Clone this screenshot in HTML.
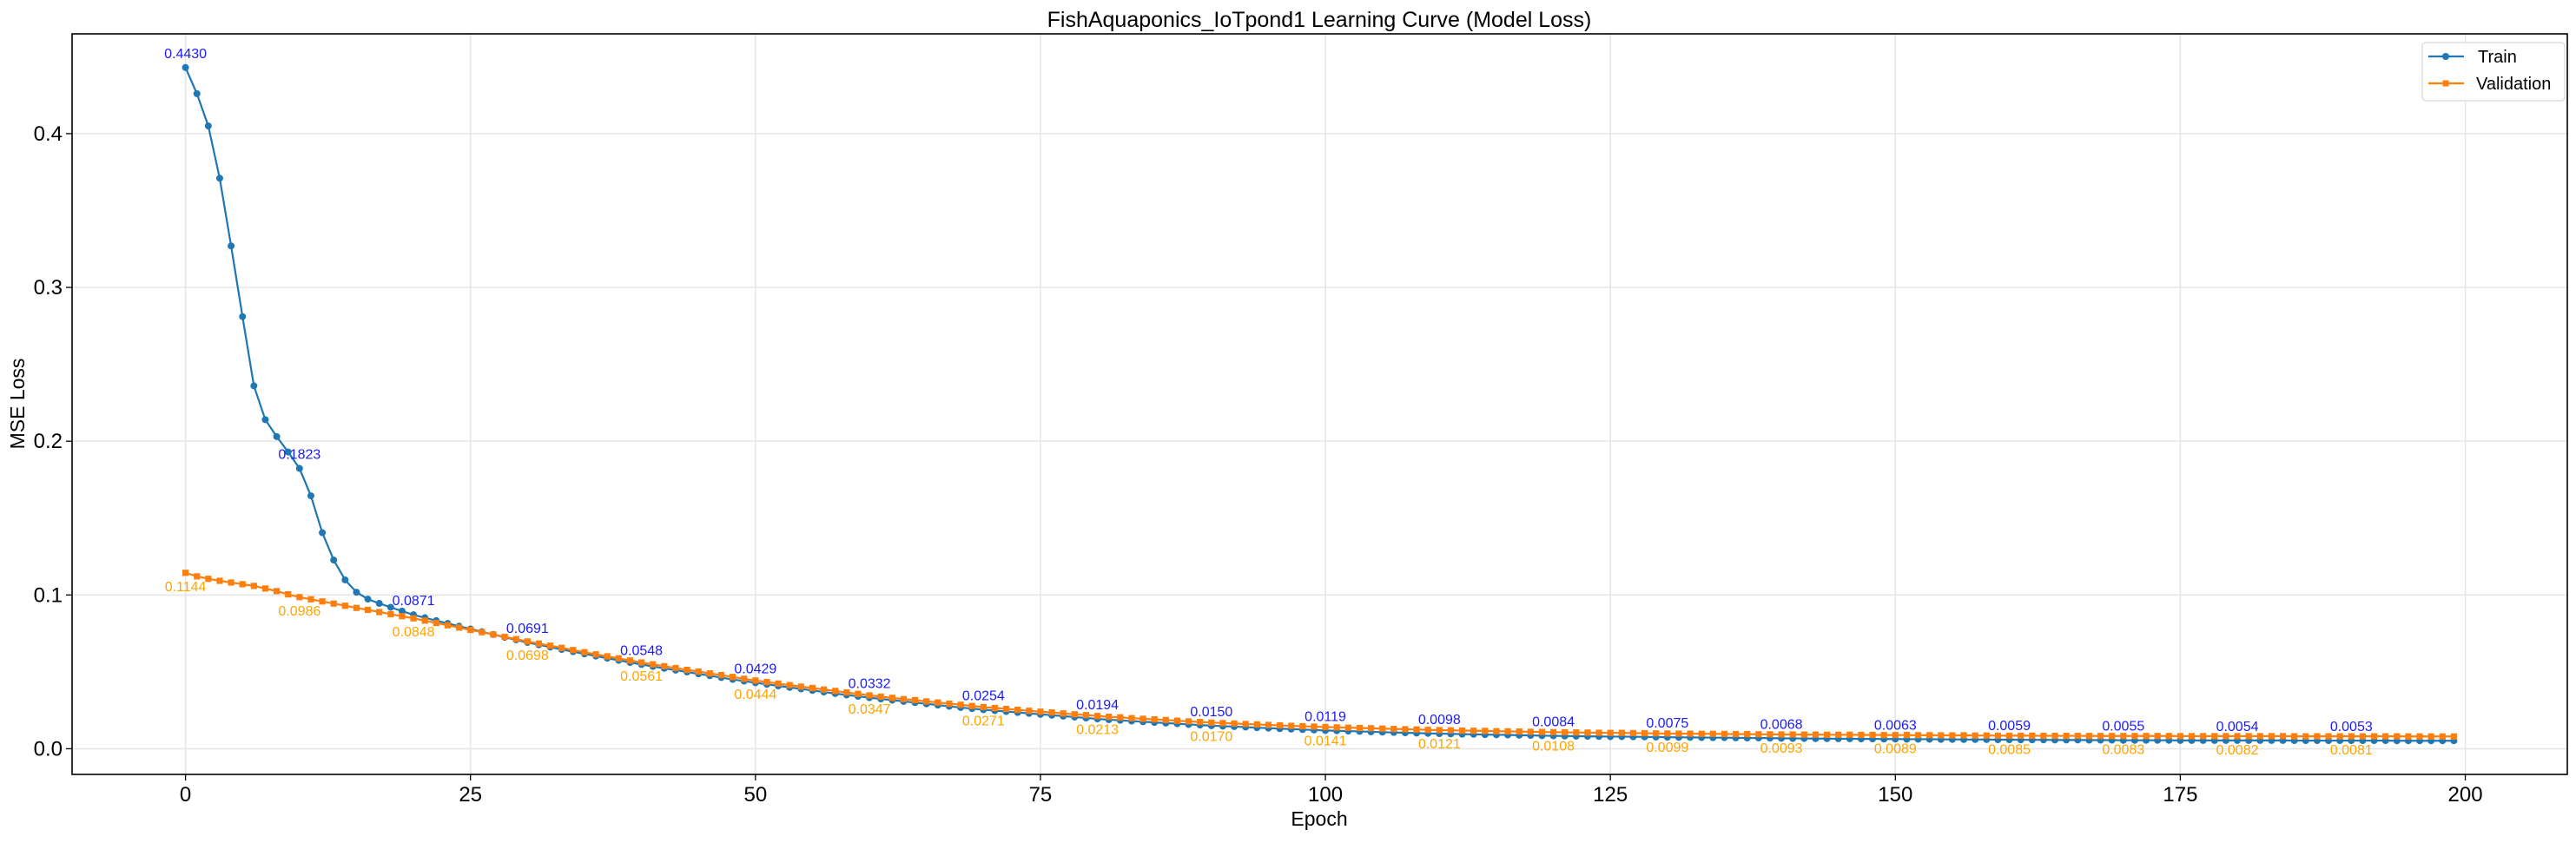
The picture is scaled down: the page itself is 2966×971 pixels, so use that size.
<!DOCTYPE html>
<html><head><meta charset="utf-8"><style>
body{margin:0;background:#fff}
svg text{font-family:"Liberation Sans",sans-serif}
</style></head><body>
<svg id="chart" width="2966" height="966" xmlns="http://www.w3.org/2000/svg">
<rect width="2966" height="966" fill="#fff"/>
<g id="grid"></g>
<g id="series"></g>
<g id="labels"></g>
<rect x="83" y="39" width="2873" height="853" fill="none" stroke="#000" stroke-width="1.6"/>
<g id="ticks"></g>
<text x="1519" y="31" font-size="25" text-anchor="middle">FishAquaponics_IoTpond1 Learning Curve (Model Loss)</text>
<text x="1519" y="951" font-size="23" text-anchor="middle">Epoch</text>
<text x="0" y="0" font-size="23" text-anchor="middle" transform="translate(28,465) rotate(-90)">MSE Loss</text>
<g>
<rect x="2789" y="49" width="164" height="67" rx="4" fill="#fff" fill-opacity="0.85" stroke="#d8d8d8" stroke-width="1.3"/>
<g>
<line x1="2796" y1="65" x2="2837" y2="65" stroke="#1f77b4" stroke-width="2.2"/><circle cx="2816" cy="65" r="4" fill="#1f77b4"/>
<text x="2853" y="72" font-size="20">Train</text></g>
<g>
<line x1="2796" y1="96" x2="2837" y2="96" stroke="#ff7f0e" stroke-width="2.2"/><rect x="2812.5" y="92.5" width="7" height="7" fill="#ff7f0e"/>
<text x="2851" y="103" font-size="20">Validation</text></g>
</g>
</svg>
<script>
const trainLoss=[
0.4430,0.4260,0.4050,0.3710,0.3270,0.2810,0.2360,0.2140,0.2030,0.1930,
0.1823,0.1645,0.1405,0.1227,0.1098,0.1018,0.0973,0.0945,0.0920,0.0895,
0.0871,0.0852,0.0833,0.0815,0.0797,0.0779,0.0761,0.0743,0.0725,0.0708,
0.0691,0.0676,0.0661,0.0646,0.0631,0.0617,0.0603,0.0589,0.0575,0.0561,
0.0548,0.0535,0.0523,0.0511,0.0499,0.0487,0.0475,0.0463,0.0451,0.0440,
0.0429,0.0419,0.0409,0.0399,0.0389,0.0379,0.0369,0.0359,0.0350,0.0341,
0.0332,0.0324,0.0316,0.0308,0.0300,0.0292,0.0284,0.0276,0.0268,0.0261,
0.0254,0.0248,0.0242,0.0236,0.0230,0.0224,0.0218,0.0212,0.0206,0.0200,
0.0194,0.0189,0.0185,0.0180,0.0176,0.0171,0.0167,0.0163,0.0158,0.0154,
0.0150,0.0147,0.0144,0.0141,0.0137,0.0134,0.0131,0.0128,0.0125,0.0122,
0.0119,0.0117,0.0115,0.0113,0.0110,0.0108,0.0106,0.0104,0.0102,0.0100,
0.0098,0.0097,0.0095,0.0094,0.0092,0.0091,0.0090,0.0088,0.0087,0.0085,
0.0084,0.0083,0.0082,0.0081,0.0080,0.0079,0.0079,0.0078,0.0077,0.0076,
0.0075,0.0074,0.0074,0.0073,0.0072,0.0072,0.0071,0.0070,0.0070,0.0069,
0.0068,0.0067,0.0067,0.0066,0.0066,0.0065,0.0065,0.0064,0.0064,0.0063,
0.0063,0.0062,0.0062,0.0062,0.0061,0.0061,0.0060,0.0060,0.0060,0.0059,
0.0059,0.0058,0.0058,0.0058,0.0057,0.0057,0.0057,0.0056,0.0056,0.0056,
0.0055,0.0055,0.0055,0.0055,0.0055,0.0054,0.0054,0.0054,0.0054,0.0054,
0.0054,0.0054,0.0054,0.0054,0.0054,0.0053,0.0053,0.0053,0.0053,0.0053,
0.0053,0.0053,0.0053,0.0053,0.0052,0.0052,0.0052,0.0052,0.0052,0.0052];
const valLoss=[
0.1144,0.1121,0.1105,0.1092,0.1081,0.1070,0.1059,0.1042,0.1025,0.1004,
0.0986,0.0972,0.0958,0.0944,0.0930,0.0916,0.0903,0.0889,0.0875,0.0862,
0.0848,0.0833,0.0818,0.0803,0.0788,0.0773,0.0758,0.0743,0.0728,0.0713,
0.0698,0.0684,0.0670,0.0656,0.0642,0.0628,0.0614,0.0601,0.0588,0.0574,
0.0561,0.0549,0.0537,0.0525,0.0513,0.0502,0.0490,0.0479,0.0467,0.0455,
0.0444,0.0434,0.0424,0.0414,0.0404,0.0395,0.0385,0.0376,0.0366,0.0357,
0.0347,0.0339,0.0331,0.0323,0.0316,0.0308,0.0301,0.0293,0.0286,0.0278,
0.0271,0.0265,0.0259,0.0253,0.0247,0.0241,0.0236,0.0230,0.0224,0.0219,
0.0213,0.0208,0.0204,0.0199,0.0195,0.0191,0.0187,0.0182,0.0178,0.0174,
0.0170,0.0167,0.0164,0.0161,0.0158,0.0155,0.0152,0.0149,0.0146,0.0144,
0.0141,0.0139,0.0137,0.0135,0.0133,0.0131,0.0129,0.0127,0.0125,0.0123,
0.0121,0.0120,0.0118,0.0117,0.0116,0.0114,0.0113,0.0112,0.0110,0.0109,
0.0108,0.0107,0.0106,0.0105,0.0104,0.0103,0.0103,0.0102,0.0101,0.0100,
0.0099,0.0098,0.0098,0.0097,0.0097,0.0096,0.0095,0.0095,0.0094,0.0094,
0.0093,0.0093,0.0092,0.0092,0.0091,0.0091,0.0091,0.0090,0.0090,0.0089,
0.0089,0.0089,0.0088,0.0088,0.0087,0.0087,0.0087,0.0086,0.0086,0.0085,
0.0085,0.0085,0.0085,0.0084,0.0084,0.0084,0.0084,0.0083,0.0083,0.0083,
0.0083,0.0083,0.0083,0.0083,0.0083,0.0082,0.0082,0.0082,0.0082,0.0082,
0.0082,0.0082,0.0082,0.0082,0.0082,0.0081,0.0081,0.0081,0.0081,0.0081,
0.0081,0.0081,0.0081,0.0081,0.0081,0.0080,0.0080,0.0080,0.0080,0.0080];
const xTicks=[0,25,50,75,100,125,150,175,200];
const yTicks=[0.0,0.1,0.2,0.3,0.4];
const yTickLabels=["0.0","0.1","0.2","0.3","0.4"];
const labelEvery=10;

const L=83,R=2956,T=39,B=892;
const n=trainLoss.length;
const xMin=-0.05*(n-1),xMax=(n-1)*1.05;
const all=trainLoss.concat(valLoss);
const dMin=Math.min(...all),dMax=Math.max(...all),pad=0.05*(dMax-dMin);
const yMin=dMin-pad,yMax=dMax+pad;
const xs=v=>L+(v-xMin)/(xMax-xMin)*(R-L);
const ys=v=>B-(v-yMin)/(yMax-yMin)*(B-T);
const NS="http://www.w3.org/2000/svg";
function mk(tag,attrs,parent){const e=document.createElementNS(NS,tag);for(const k in attrs)e.setAttribute(k,attrs[k]);parent.appendChild(e);return e;}
const grid=document.getElementById('grid'),ticks=document.getElementById('ticks'),series=document.getElementById('series'),labels=document.getElementById('labels');
xTicks.forEach(t=>{const x=xs(t);
 const g=mk('line',{x1:x,x2:x,y1:T,y2:B,stroke:'#e5e5e5','stroke-width':1.5},grid);
 
 
 const tk=mk('line',{x1:x,x2:x,y1:B,y2:B+7,stroke:'#000','stroke-width':1.3},ticks);
 
 
 const tl=mk('text',{x:x,y:B+31,'font-size':24,'text-anchor':'middle'},ticks);tl.textContent=t;
 
 
});
yTicks.forEach((t,i)=>{const y=ys(t);
 const g=mk('line',{x1:L,x2:R,y1:y,y2:y,stroke:'#e5e5e5','stroke-width':1.5},grid);
 
 
 const tk=mk('line',{x1:L-7,x2:L,y1:y,y2:y,stroke:'#000','stroke-width':1.3},ticks);
 
 
 const tl=mk('text',{x:L-11,y:y+8,'font-size':24,'text-anchor':'end'},ticks);tl.textContent=yTickLabels[i];
 
 
});
function draw(data,color,kind,name){
 const g=mk('g',{},series);
 
 
 const p=mk('polyline',{points:data.map((v,i)=>xs(i)+','+ys(v)).join(' '),fill:'none',stroke:color,'stroke-width':2.2,'stroke-linejoin':'round'},g);
 
 
 data.forEach((v,i)=>{let m;
  if(kind==='c')m=mk('circle',{cx:xs(i),cy:ys(v),r:4,fill:color},g);
  else m=mk('rect',{x:xs(i)-3.6,y:ys(v)-3.6,width:7.2,height:7.2,fill:color},g);
  
  
 });
}
draw(trainLoss,'#1f77b4','c','train');
draw(valLoss,'#ff7f0e','s','validation');
for(let i=0;i<n;i+=labelEvery){
 const a=mk('text',{x:xs(i),y:ys(trainLoss[i])-11,'font-size':16,'text-anchor':'middle',fill:'#1a1aff'},labels);a.textContent=trainLoss[i].toFixed(4);
 
 
 const b=mk('text',{x:xs(i),y:ys(valLoss[i])+21,'font-size':16,'text-anchor':'middle',fill:'#ffa500'},labels);b.textContent=valLoss[i].toFixed(4);
 
 
}
</script>
</body></html>
